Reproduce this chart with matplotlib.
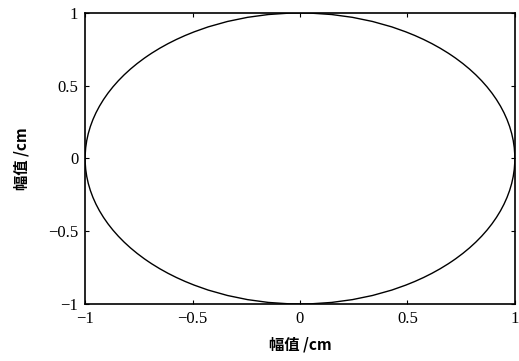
import matplotlib
matplotlib.use("Agg")
import matplotlib.pyplot as plt
from matplotlib.patches import Ellipse

# ellipse trace (amplitude in cm)
center = (0.0, 0.0)
semi_x = 1.0
semi_y = 1.0

x_ticks = [-1, -0.5, 0, 0.5, 1]
x_labels = ["\u22121", "\u22120.5", "0", "0.5", "1"]
y_ticks = [-1, -0.5, 0, 0.5, 1]
y_labels = ["\u22121", "\u22120.5", "0", "0.5", "1"]

fig = plt.figure(figsize=(5.19, 3.61), dpi=100)
ax = fig.add_axes([0.164, 0.158, 0.828, 0.806])

ax.add_patch(Ellipse(center, 2 * semi_x, 2 * semi_y, fill=False,
                     edgecolor="black", linewidth=1.0))
ax.set_xlim(-1, 1)
ax.set_ylim(-1, 1)

ax.set_xticks(x_ticks)
ax.set_xticklabels(x_labels, family="Liberation Serif", fontsize=12)
ax.set_yticks(y_ticks)
ax.set_yticklabels(y_labels, family="Liberation Serif", fontsize=12)
ax.tick_params(direction="in", length=3, width=0.8, top=True, right=True, pad=5)
for sp in ax.spines.values():
    sp.set_linewidth(1.2)

ax.set_xlabel("幅值 /cm", family=["Noto Sans CJK SC", "DejaVu Sans"],
              fontsize=11, fontweight="bold", labelpad=7)
ax.set_ylabel("幅值 /cm", family=["Noto Sans CJK SC", "DejaVu Sans"],
              fontsize=11, fontweight="bold", labelpad=13)

fig.savefig("out.png", dpi=100)
